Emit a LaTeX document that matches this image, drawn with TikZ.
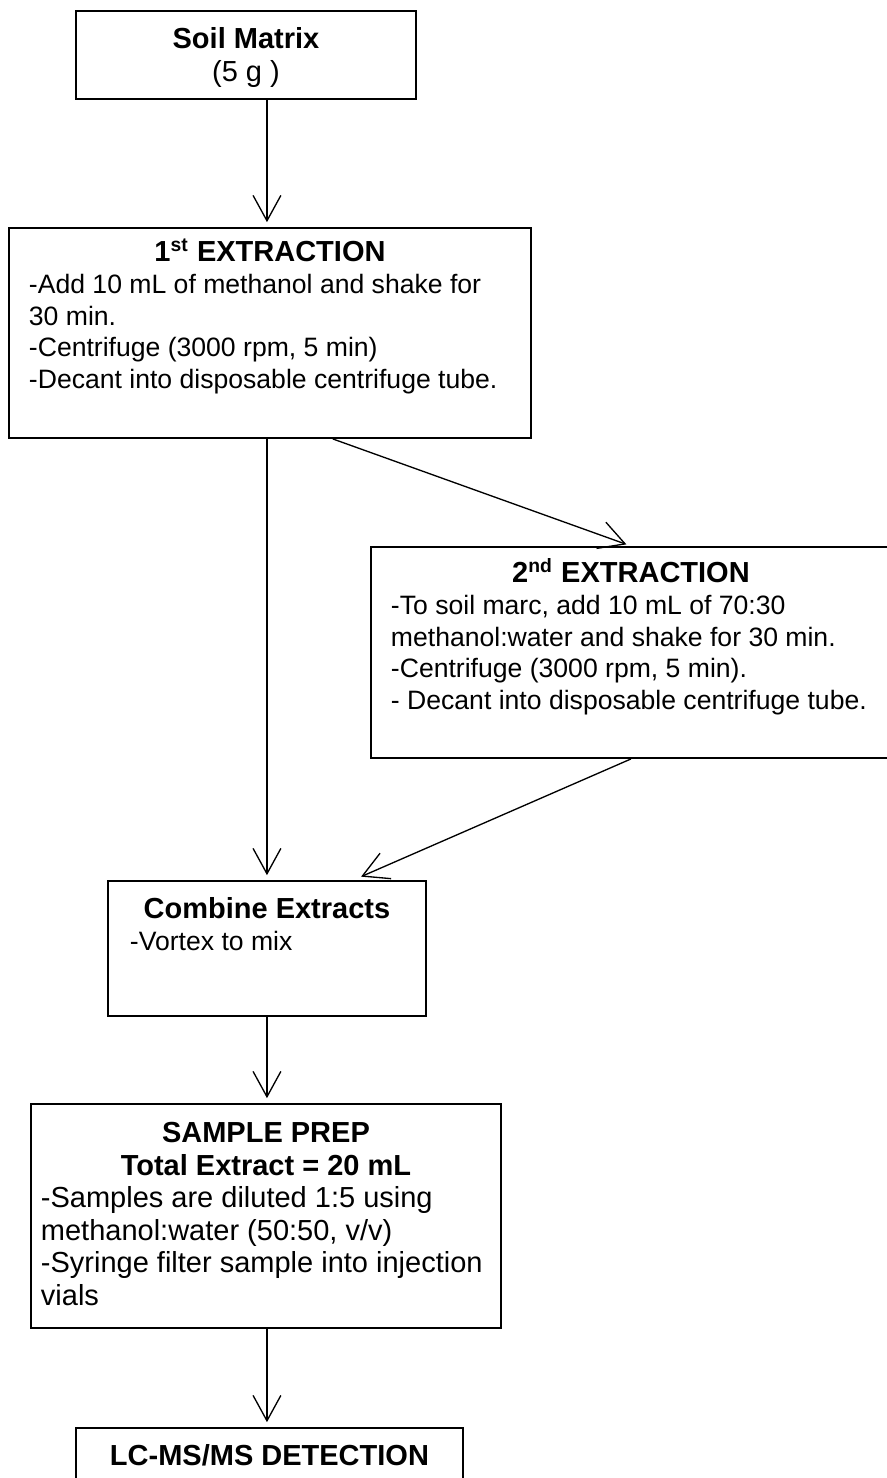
\documentclass[tikz,border=0pt]{standalone}
\usepackage{fontspec}
\setmainfont{Liberation Sans}
\usetikzlibrary{arrows.meta,positioning,calc}

\newlength\pxu
\setlength\pxu{0.4138pt}
\newcommand\boxtext[3]{\parbox[t][#2\pxu][t]{#1\pxu}{#3}}
\newcommand\smallbody{\fontsize{11}{13.1}\selectfont}
\tikzset{
  stepbox/.style={draw, line width=0.8pt, anchor=north west, inner sep=0pt},
  flow/.style={-{Straight Barb[length=10.5pt,width=11.5pt]}, line width=0.55pt, shorten >=2pt},
}

\begin{document}
\begin{tikzpicture}[x=0.4138pt,y=-0.4138pt,font=\fontsize{12}{13.45}\selectfont]
  \useasboundingbox (0,0) rectangle (887,1478);

  \node[stepbox] (soil) at (75,10) {\boxtext{340}{88}{%
    {\centering\bfseries\rule{0pt}{38\pxu}Soil Matrix\par}
    {\centering (5 g )\par}}};

  \node[stepbox] (ext1) at (8,227) {\boxtext{522}{210}{%
    {\centering\bfseries\rule{0pt}{34\pxu}1\textsuperscript{st} EXTRACTION\par}
    \smallbody\raggedright\leftskip=20\pxu
    -Add 10 mL of methanol and shake for\\
    30 min.\\
    -Centrifuge (3000 rpm, 5 min)\\
    -Decant into disposable centrifuge tube.\par}};

  \node[stepbox] (ext2) at (370,546) {\boxtext{520}{211}{%
    {\centering\bfseries\rule{0pt}{36\pxu}2\textsuperscript{nd} EXTRACTION\par}
    \smallbody\raggedright\leftskip=20\pxu
    -To soil marc, add 10 mL of 70:30\\
    methanol:water and shake for 30 min.\\
    -Centrifuge (3000 rpm, 5 min).\\
    - Decant into disposable centrifuge tube.\par}};

  \node[stepbox] (combine) at (107,880) {\boxtext{318}{135}{%
    {\centering\bfseries\rule{0pt}{38\pxu}Combine Extracts\par}
    \smallbody\raggedright\leftskip=22\pxu
    -Vortex to mix\par}};

  \node[stepbox] (prep) at (30,1103) {\boxtext{470}{224}{%
    {\centering\bfseries\rule{0pt}{39\pxu}SAMPLE PREP\\
      Total Extract = 20 mL\par}
    \raggedright\leftskip=10\pxu
    -Samples are diluted 1:5 using\\
    methanol:water (50:50, v/v)\\
    -Syringe filter sample into injection\\
    vials\par}};

  \node[stepbox] (detect) at (75,1427) {\boxtext{387}{100}{%
    {\centering\bfseries\rule{0pt}{38\pxu}LC-MS/MS DETECTION\par}}};

  % arrows
  \draw[flow] (combine.north |- soil.south) -- (combine.north |- ext1.north);
  \draw[flow] (combine.north |- ext1.south) -- (combine.north);
  \draw[flow] ($(ext1.south west)!0.62!(ext1.south east)$) -- (ext2.north);
  \draw[flow, shorten >=3.5pt] (ext2.south) -- ($(combine.north)!0.54!(combine.north east)$);
  \draw[flow] (combine.south) -- (combine.south |- prep.north);
  \draw[flow] (combine.south |- prep.south) -- (combine.south |- detect.north);
\end{tikzpicture}
\end{document}
